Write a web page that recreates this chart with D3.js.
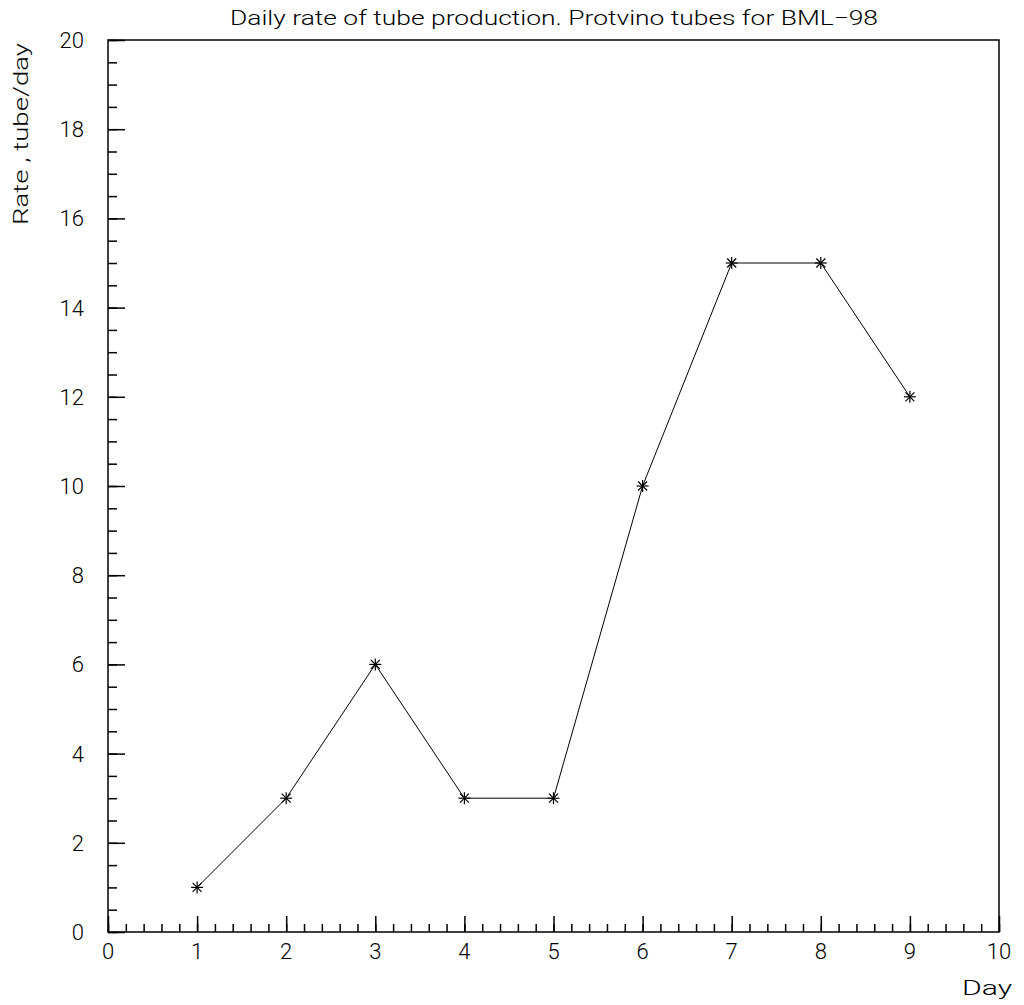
<!DOCTYPE html>
<html>
<head>
<meta charset="utf-8">
<script src="https://cdn.jsdelivr.net/npm/d3@7"></script>
<style>
  html, body { margin: 0; padding: 0; background: #fff; }
  text { font-family: Roboto, "DejaVu Sans", sans-serif; font-weight: 300; fill: #000; }
</style>
</head>
<body>
<svg id="chart" width="1024" height="1005"></svg>
<script>
// Daily production counts
const days = [1, 2, 3, 4, 5, 6, 7, 8, 9];
const rates = [1, 3, 6, 3, 3, 10, 15, 15, 12];
const xTickValues = [0, 1, 2, 3, 4, 5, 6, 7, 8, 9, 10];
const yTickValues = [0, 2, 4, 6, 8, 10, 12, 14, 16, 18, 20];

const titleText = "Daily rate of tube production. Protvino tubes for BML\u221298";
const xLabel = "Day";
const yLabel = "Rate , tube/day";

const svg = d3.select("#chart");
const plotLeft = 108, plotRight = 999, plotTop = 40, plotBottom = 932;

const x = d3.scaleLinear().domain([0, 10]).range([plotLeft, plotRight]);
const y = d3.scaleLinear().domain([0, 20]).range([plotBottom, plotTop]);

// frame
svg.append("rect")
  .attr("x", plotLeft).attr("y", plotTop)
  .attr("width", plotRight - plotLeft).attr("height", plotBottom - plotTop)
  .attr("fill", "none").attr("stroke", "#000").attr("stroke-width", 1.5);

// x axis: ticks point up into the plot
const xMinor = d3.range(0, 10.001, 0.2).map(v => +v.toFixed(1));
svg.append("g")
  .attr("transform", `translate(0,${plotBottom})`)
  .call(d3.axisTop(x).tickValues(xMinor).tickSize(8).tickFormat(""))
  .call(g => g.select(".domain").remove())
  .call(g => g.selectAll("line").attr("stroke", "#000").attr("stroke-width", 1.5));
svg.append("g")
  .attr("transform", `translate(0,${plotBottom})`)
  .call(d3.axisTop(x).tickValues(xTickValues).tickSize(16).tickFormat(""))
  .call(g => g.select(".domain").remove())
  .call(g => g.selectAll("line").attr("stroke", "#000").attr("stroke-width", 1.5));
svg.append("g")
  .selectAll("text").data(xTickValues).join("text")
  .attr("x", d => x(d)).attr("y", 959)
  .attr("text-anchor", "middle")
  .attr("font-size", 22)
  .text(d => d);

// y axis: ticks point right into the plot
const yMinor = d3.range(0, 20.001, 0.5);
svg.append("g")
  .attr("transform", `translate(${plotLeft},0)`)
  .call(d3.axisRight(y).tickValues(yMinor).tickSize(9).tickFormat(""))
  .call(g => g.select(".domain").remove())
  .call(g => g.selectAll("line").attr("stroke", "#000").attr("stroke-width", 1.5));
svg.append("g")
  .attr("transform", `translate(${plotLeft},0)`)
  .call(d3.axisRight(y).tickValues(yTickValues).tickSize(17).tickFormat(""))
  .call(g => g.select(".domain").remove())
  .call(g => g.selectAll("line").attr("stroke", "#000").attr("stroke-width", 1.5));
svg.append("g")
  .selectAll("text").data(yTickValues).join("text")
  .attr("x", 84).attr("y", d => y(d) + 8)
  .attr("text-anchor", "end")
  .attr("font-size", 22)
  .text(d => d);

// series line
const pts = days.map((d, i) => [d, rates[i]]);
svg.append("path")
  .datum(pts)
  .attr("fill", "none").attr("stroke", "#000").attr("stroke-width", 1)
  .attr("d", d3.line().x(d => x(d[0])).y(d => y(d[1])));

// asterisk markers
const r = 6, rd = 4.5;
const mk = svg.append("g").selectAll("g").data(pts).join("g")
  .attr("transform", d => `translate(${x(d[0])},${y(d[1])})`)
  .attr("stroke", "#000").attr("stroke-width", 1.2);
mk.append("line").attr("x1", -r).attr("x2", r).attr("y1", 0).attr("y2", 0);
mk.append("line").attr("x1", 0).attr("x2", 0).attr("y1", -r).attr("y2", r);
mk.append("line").attr("x1", -rd).attr("x2", rd).attr("y1", -rd).attr("y2", rd);
mk.append("line").attr("x1", -rd).attr("x2", rd).attr("y1", rd).attr("y2", -rd);

// titles (stretched to the wide lettering of the plot style)
svg.append("text")
  .attr("x", 230).attr("y", 25)
  .attr("font-size", 20)
  .attr("textLength", 648).attr("lengthAdjust", "spacingAndGlyphs")
  .text(titleText);
svg.append("text")
  .attr("x", 962).attr("y", 995)
  .attr("font-size", 21)
  .attr("textLength", 50).attr("lengthAdjust", "spacingAndGlyphs")
  .text(xLabel);
svg.append("text")
  .attr("transform", "translate(28,225) rotate(-90)")
  .attr("font-size", 21)
  .attr("textLength", 182).attr("lengthAdjust", "spacingAndGlyphs")
  .text(yLabel);
</script>
</body>
</html>
